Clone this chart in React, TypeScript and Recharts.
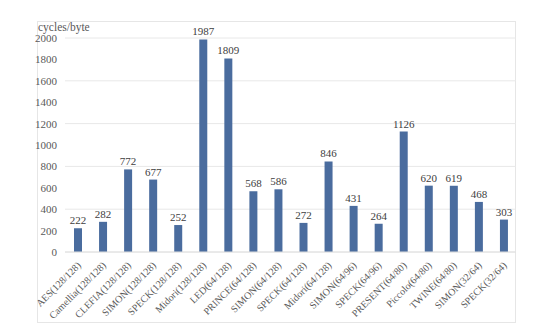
import { BarChart, Bar, XAxis, YAxis, CartesianGrid, LabelList } from "recharts";

const ciphers = [
  "AES(128/128)",
  "Camellia(128/128)",
  "CLEFIA(128/128)",
  "SIMON(128/128)",
  "SPECK(128/128)",
  "Midori(128/128)",
  "LED(64/128)",
  "PRINCE(64/128)",
  "SIMON(64/128)",
  "SPECK(64/128)",
  "Midori(64/128)",
  "SIMON(64/96)",
  "SPECK(64/96)",
  "PRESENT(64/80)",
  "Piccolo(64/80)",
  "TWINE(64/80)",
  "SIMON(32/64)",
  "SPECK(32/64)",
];

const cycles = [222, 282, 772, 677, 252, 1987, 1809, 568, 586, 272, 846, 431, 264, 1126, 620, 619, 468, 303];

const yTicks = [0, 200, 400, 600, 800, 1000, 1200, 1400, 1600, 1800, 2000];

const data = ciphers.map((name, i) => ({ name, value: cycles[i] }));

const FONT = "'Liberation Serif', 'Times New Roman', serif";

function RotatedTick(props: any) {
  const { x, y, payload } = props;
  return (
    <text
      x={x + 4}
      y={y + 6}
      transform={`rotate(-45, ${x + 4}, ${y + 6})`}
      textAnchor="end"
      fontSize={10}
      fontFamily={FONT}
      fill="#595959"
    >
      {payload.value}
    </text>
  );
}

export default function App() {
  return (
    <div
      style={{
        position: "absolute",
        left: 0,
        top: 0,
        width: 540,
        height: 333,
        background: "#fff",
        fontFamily: FONT,
      }}
    >
      <div
        style={{
          position: "absolute",
          left: 37,
          top: 21,
          width: 479,
          height: 302,
          border: "1px solid #e6e6e6",
          boxSizing: "border-box",
        }}
      />
      <div
        style={{
          position: "absolute",
          left: 38,
          top: 21,
          fontSize: 11.5,
          color: "#595959",
        }}
      >
        cycles/byte
      </div>
      <BarChart
        width={540}
        height={333}
        data={data}
        margin={{ top: 38, right: 24, bottom: 0, left: 0 }}
        barSize={8}
        style={{ position: "absolute", left: 0, top: 0, fontFamily: FONT }}
      >
        <CartesianGrid vertical={false} stroke="#e8e8e8" />
        <XAxis
          dataKey="name"
          interval={0}
          height={81}
          tickLine={false}
          axisLine={{ stroke: "#e0e0e0" }}
          tick={<RotatedTick />}
        />
        <YAxis
          width={65}
          domain={[0, 2000]}
          ticks={yTicks}
          tickLine={false}
          axisLine={false}
          tick={{ fontSize: 11, fontFamily: FONT, fill: "#595959" }}
        />
        <Bar dataKey="value" fill="#4a6c9e" isAnimationActive={false}>
          <LabelList
            dataKey="value"
            position="top"
            offset={4}
            fontSize={11}
            fontFamily={FONT}
            fill="#404040"
          />
        </Bar>
      </BarChart>
    </div>
  );
}
